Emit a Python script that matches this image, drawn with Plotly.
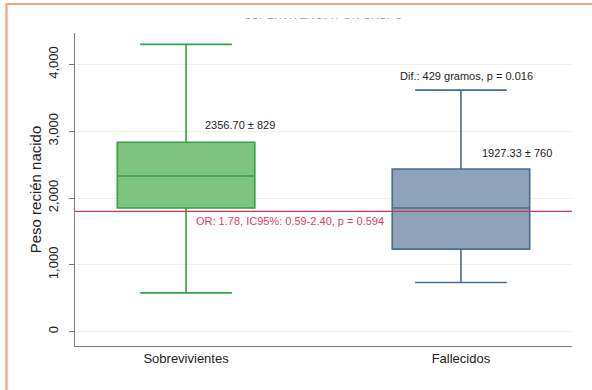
import plotly.graph_objects as go

# Birth weight (grams) by outcome group
groups = ["Sobrevivientes", "Fallecidos"]
upper_whisker = [4300, 3615]
q3 = [2835, 2435]
median = [2330, 1850]
q1 = [1850, 1235]
lower_whisker = [580, 735]
mean_sd_labels = ["2356.70 ± 829", "1927.33 ± 760"]
fill_colors = ["#7dc47f", "#8ea3b9"]
line_colors = ["#36a045", "#4a6b8c"]

cutoff = 1800
cutoff_label = "OR: 1.78, IC95%: 0.59-2.40, p = 0.594"
diff_label = "Dif.: 429 gramos, p = 0.016"
y_ticks = [0, 1000, 2000, 3000, 4000]

W, H = 592, 390
L, R, T, B = 75, 20, 33, 44
pw, ph = W - L - R, H - T - B


def px_x(x):
    return (x - L) / pw


def px_y(y):
    return (H - B - y) / ph


fig = go.Figure()
for i, g in enumerate(groups):
    fig.add_trace(go.Box(
        x=[g], q1=[q1[i]], median=[median[i]], q3=[q3[i]],
        lowerfence=[lower_whisker[i]], upperfence=[upper_whisker[i]],
        fillcolor=fill_colors[i], line=dict(color=line_colors[i], width=1.6),
        width=0.5, whiskerwidth=0.667, boxpoints=False, showlegend=False,
        hoverinfo="skip",
    ))

# Cut-off reference line
fig.add_shape(type="line", xref="paper", yref="y", x0=0, x1=1,
              y0=cutoff, y1=cutoff, line=dict(color="#c23a5c", width=1.4),
              layer="above")

font = "Liberation Sans, Arial, sans-serif"
ann = dict(showarrow=False, font=dict(family=font, size=11, color="#222"))
fig.add_annotation(x=0.06, y=q3[0] + 140, xref="x", yref="y", xanchor="left",
                   yanchor="bottom", text=mean_sd_labels[0], **ann)
fig.add_annotation(x=1.07, y=q3[1] + 125, xref="x", yref="y", xanchor="left",
                   yanchor="bottom", text=mean_sd_labels[1], **ann)
fig.add_annotation(x=1.022, y=upper_whisker[1] + 95, xref="x", yref="y",
                   xanchor="center", yanchor="bottom", text=diff_label, **ann)
fig.add_annotation(x=0.03, y=cutoff - 30, xref="x", yref="y", xanchor="left",
                   yanchor="top", text=cutoff_label, showarrow=False,
                   font=dict(family=font, size=11, color="#e0405c"))

# Chart title, trimmed at the top by the white band drawn after it
fig.add_annotation(x=px_x(323), y=px_y(15), xref="paper", yref="paper",
                   xanchor="center", yanchor="middle", text="SUPERVIVENCIA POR GRUPO",
                   showarrow=False, font=dict(family=font, size=11, color="#333"))
fig.add_annotation(x=px_x(323), y=px_y(19), xref="paper", yref="paper",
                   xanchor="center", yanchor="bottom", text=" ", width=220, height=12,
                   borderpad=0, bgcolor="white", showarrow=False, font=dict(size=8))

# Frame around the figure
fig.add_shape(type="rect", xref="paper", yref="paper",
              x0=px_x(6.5), x1=px_x(W + 10),
              y0=px_y(H + 10), y1=px_y(4),
              line=dict(color="#f8a47c", width=2.2), layer="above")

fig.update_layout(
    width=W, height=H,
    margin=dict(l=L, r=R, t=T, b=B),
    paper_bgcolor="white", plot_bgcolor="white",
    font=dict(family=font, color="#222"),
    boxgap=0,
)
fig.update_xaxes(
    range=[-0.404, 1.404], showline=True, linecolor="#7a7a7a", linewidth=1.2,
    ticks="", showgrid=False, tickfont=dict(size=13, color="#222"),
)
fig.update_yaxes(
    range=[-215, 4470], tickvals=y_ticks, tickformat=",d", tickangle=-90,
    showline=True, linecolor="#7a7a7a", linewidth=1.2, ticks="outside",
    ticklen=5, tickcolor="#7a7a7a", showgrid=True, gridcolor="#eef1f3",
    gridwidth=1, zeroline=False, tickfont=dict(size=13, color="#222"),
    ticklabelstandoff=6,
    title=dict(text="Peso recién nacido", font=dict(size=15, color="#222"),
               standoff=0),
)

fig.write_html("out.html")
